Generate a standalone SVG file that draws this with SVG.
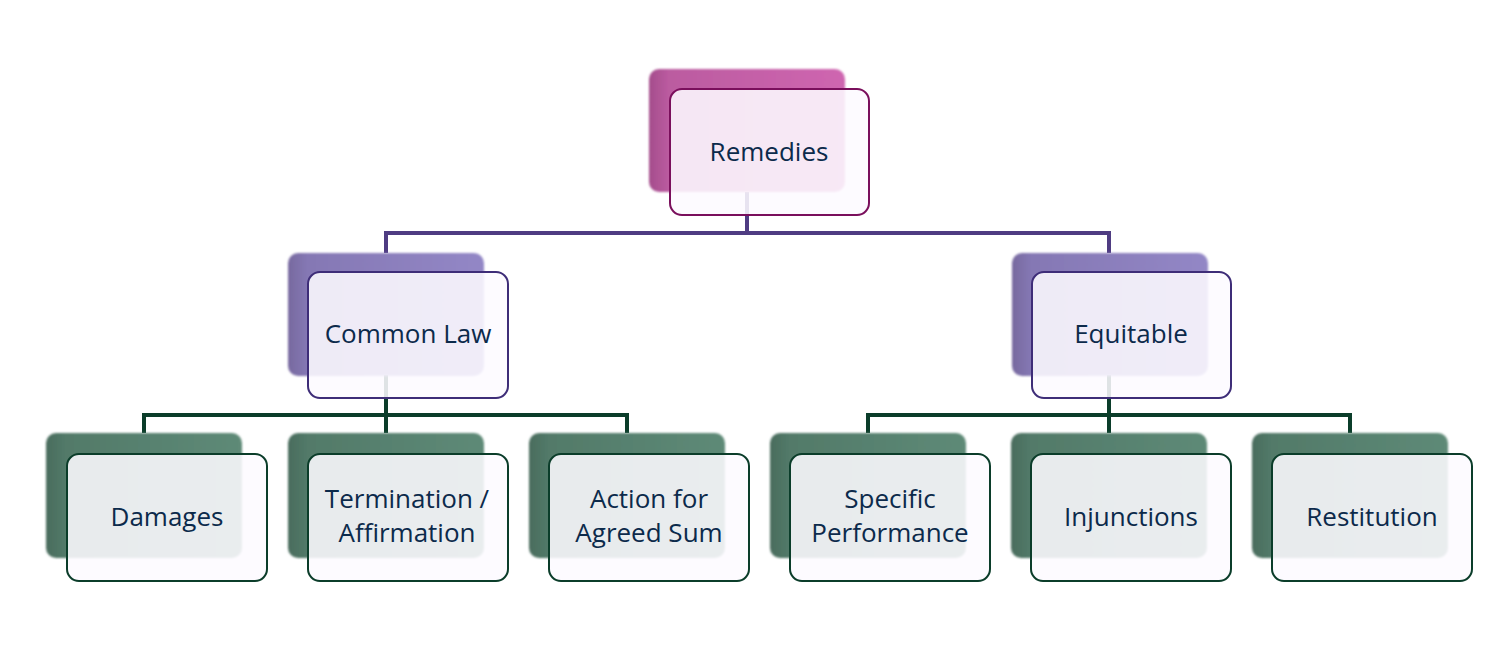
<svg xmlns="http://www.w3.org/2000/svg" width="1503" height="646" viewBox="0 0 1503 646">
<defs>
<linearGradient id="gM" x1="0" y1="0" x2="1" y2="0">
<stop offset="0" stop-color="#a44d8c"/><stop offset="0.1" stop-color="#bb5ba0"/><stop offset="1" stop-color="#cf66b0"/>
</linearGradient>
<linearGradient id="gP" x1="0" y1="0" x2="1" y2="0">
<stop offset="0" stop-color="#77699f"/><stop offset="0.1" stop-color="#8578b4"/><stop offset="1" stop-color="#9387c6"/>
</linearGradient>
<linearGradient id="gG" x1="0" y1="0" x2="1" y2="0">
<stop offset="0" stop-color="#4a6c5d"/><stop offset="0.1" stop-color="#527a69"/><stop offset="1" stop-color="#5e8a77"/>
</linearGradient>
<filter id="soft" x="-5%" y="-5%" width="110%" height="110%"><feGaussianBlur stdDeviation="1"/></filter>
</defs>
<style>
.bm{fill:url(#gM);filter:url(#soft)}
.bp{fill:url(#gP);filter:url(#soft)}
.bg{fill:url(#gG);filter:url(#soft)}
.f{fill:#fdfbff;fill-opacity:0.88;stroke-width:2}
.fm{stroke:#7a0f5c}
.fp{stroke:#3e2d78}
.fg{stroke:#0b3d2a}
.c{fill:none;stroke-width:4}
text{font-family:"Open Sans","Noto Sans","Liberation Sans",sans-serif;font-size:26px;fill:#0c2a4b;text-anchor:middle}
</style>
<g id="connectors">
<path class="c" stroke="#4f3c82" d="M386 253 V233 H1109 V253 M747 192 V233"/>
<path class="c" stroke="#0b3d2a" d="M144 433 V415 H627 V433 M386 375 V433"/>
<path class="c" stroke="#0b3d2a" d="M868 433 V415 H1350 V433 M1109 375 V433"/>
</g>
<g id="remedies">
<rect class="bm" x="649" y="69" width="196" height="123" rx="10"/>
<rect class="f fm" x="670" y="89" width="199" height="126" rx="12"/>
<text x="769" y="161">Remedies</text>
</g>
<g id="common-law">
<rect class="bp" x="288" y="253" width="196" height="123" rx="10"/>
<rect class="f fp" x="308" y="272" width="200" height="126" rx="12"/>
<text x="408" y="343">Common Law</text>
</g>
<g id="equitable">
<rect class="bp" x="1012" y="253" width="196" height="123" rx="10"/>
<rect class="f fp" x="1032" y="272" width="199" height="126" rx="12"/>
<text x="1131" y="343">Equitable</text>
</g>
<g id="damages">
<rect class="bg" x="46" y="433" width="196" height="125" rx="10"/>
<rect class="f fg" x="67" y="454" width="200" height="127" rx="12"/>
<text x="167" y="526">Damages</text>
</g>
<g id="termination">
<rect class="bg" x="288" y="433" width="196" height="125" rx="10"/>
<rect class="f fg" x="308" y="454" width="200" height="127" rx="12"/>
<text x="407" y="508">Termination /</text>
<text x="407" y="542">Affirmation</text>
</g>
<g id="action">
<rect class="bg" x="529" y="433" width="196" height="125" rx="10"/>
<rect class="f fg" x="549" y="454" width="200" height="127" rx="12"/>
<text x="649" y="508">Action for</text>
<text x="649" y="542">Agreed Sum</text>
</g>
<g id="specific">
<rect class="bg" x="770" y="433" width="196" height="125" rx="10"/>
<rect class="f fg" x="790" y="454" width="200" height="127" rx="12"/>
<text x="890" y="508">Specific</text>
<text x="890" y="542">Performance</text>
</g>
<g id="injunctions">
<rect class="bg" x="1011" y="433" width="196" height="125" rx="10"/>
<rect class="f fg" x="1031" y="454" width="200" height="127" rx="12"/>
<text x="1131" y="526">Injunctions</text>
</g>
<g id="restitution">
<rect class="bg" x="1252" y="433" width="196" height="125" rx="10"/>
<rect class="f fg" x="1272" y="454" width="200" height="127" rx="12"/>
<text x="1372" y="526">Restitution</text>
</g>
</svg>
